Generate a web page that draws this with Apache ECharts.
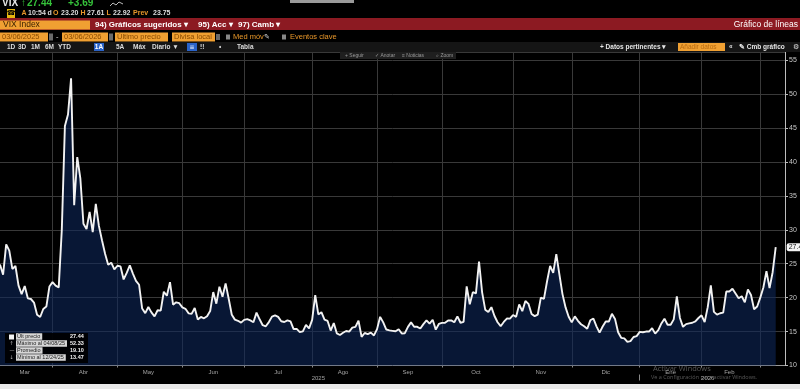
<!DOCTYPE html>
<html><head><meta charset="utf-8">
<script src="https://cdn.jsdelivr.net/npm/echarts@6/dist/echarts.min.js"></script>
<style>html,body{margin:0;padding:0;background:#000;}#c{width:800px;height:389px;}</style>
</head><body><div id="c"></div>
<script>
// ---- DATA (VIX Index, daily close, 03/06/2025 - 03/06/2026) ----
const monthNames = ['Mar','Abr','May','Jun','Jul','Ago','Sep','Oct','Nov','Dic','Ene','Feb','Mar'];
const monthYears = [2025,2025,2025,2025,2025,2025,2025,2025,2025,2025,2026,2026,2026];
const mar25 = [24.87,23.37,27.86,26.92,24.23,24.66,21.77,20.51,21.70,19.90,19.80,19.28,17.48,17.15,18.33,18.69,21.65,22.28];
const abr25 = [21.77,21.51,30.02,45.31,46.98,52.33,33.62,40.72,37.56,30.89,30.12,32.64,29.65,33.82,30.57,28.45,26.47,24.84,25.15,24.17,24.70];
const may25 = [24.60,22.68,23.64,24.76,23.55,22.48,21.90,18.39,17.72,18.62,17.83,17.24,18.14,18.09,20.87,20.28,22.29,18.96,19.31,19.18,18.57];
const jun25 = [18.36,17.69,17.61,18.48,16.77,17.16,16.95,17.26,18.02,20.82,19.11,21.60,20.14,22.10,19.83,17.48,16.76,16.59,16.32,16.73];
const jul25 = [16.83,16.64,16.38,17.79,16.81,15.94,15.78,16.40,17.20,17.38,17.16,16.52,16.41,16.65,16.50,15.37,15.39,14.93,15.03,15.98,15.48,16.72];
const ago25 = [20.38,17.52,17.85,16.77,16.57,15.15,16.25,14.73,14.49,14.83,15.09,14.99,15.57,15.69,16.60,14.22,14.79,14.62,14.85,14.43,15.36];
const sep25 = [17.17,16.35,15.30,15.18,15.11,15.04,15.35,14.71,14.76,15.69,16.36,15.72,15.70,15.45,16.10,16.64,16.18,16.74,15.29,16.12,16.28];
const oct25 = [16.29,16.63,16.65,16.37,17.24,16.30,16.43,21.66,19.03,20.81,20.64,25.31,20.78,18.23,17.87,18.60,17.30,16.37,15.79,16.42,16.92,16.91,17.44];
const nov25 = [17.17,19.00,18.01,19.50,19.08,17.60,17.28,17.51,20.00,19.83,22.38,24.69,23.66,26.42,23.43,20.52,18.56,17.19,16.35];
const dic25 = [17.24,16.59,16.08,15.78,15.41,16.66,16.93,15.77,14.85,15.74,16.50,16.48,17.62,16.87,14.91,14.08,14.00,13.47,13.60,14.20,14.33,14.95];
const ene26 = [14.90,15.00,15.00,15.50,14.70,15.20,16.20,16.90,16.00,16.00,16.80,20.20,17.00,15.70,16.10,16.20,16.30,16.50,17.00,17.40];
const feb26 = [16.40,18.60,21.80,17.90,17.50,17.70,17.80,20.90,20.90,21.30,20.60,19.90,20.20,19.30,21.20,20.40,18.30,18.70,20.00];
const mar26 = [21.50,23.90,21.40,23.75,27.44];
const yTicks = [10,15,20,25,30,35,40,45,50,55];
const legendLabels = ['Últ precio','Máximo al 04/08/25','Promedio','Mínimo al 12/24/25'];
const legendValues = ['27.44','52.33','19.10','13.47'];

// ---- build category axis from the monthly arrays ----
const months = [mar25,abr25,may25,jun25,jul25,ago25,sep25,oct25,nov25,dic25,ene26,feb26,mar26];
const cats = [], vals = [];
const monthEnd = new Set(), monthLabel = {}, yearEnd = new Set(), yearSpan = {};
months.forEach((arr, m) => {
  const s = vals.length;
  arr.forEach((v, i) => { cats.push(monthNames[m] + ' ' + (i + 1)); vals.push(v); });
  const e = vals.length - 1;
  if (m < months.length - 1) monthEnd.add(e);
  if (arr.length >= 10) monthLabel[s + Math.floor(arr.length / 2) - 1] = monthNames[m];
  const y = monthYears[m];
  if (!yearSpan[y]) yearSpan[y] = [s, e]; else yearSpan[y][1] = e;
});
const yearLabel = {};
Object.keys(yearSpan).forEach(y => {
  const [s, e] = yearSpan[y];
  yearLabel[Math.floor((s + e) / 2)] = y;
  if (e < vals.length - 1) yearEnd.add(e);
});
for (let k = 0; k < 3; k++) { cats.push(''); vals.push(null); }

// ---- header / decorations ----
const FF = '"Liberation Sans"';
const G = [];
function R(x, y, w, h, fill, z) { G.push({type:'rect', shape:{x, y, width:w, height:h}, style:{fill}, silent:true, z: z || 100}); }
function T(x, y, text, o) {
  const st = Object.assign({text, fill:'#dcdcdc', font:'bold 7px ' + FF, verticalAlign:'middle', align:'left'}, o || {});
  const z = st.z || 101; delete st.z;
  G.push({type:'text', x, y, silent:true, z, style: st});
}
const ORG = '#f0a032', OTXT = '#8a4b00', GRN = '#35c23a', AMB = '#e8972a';

// row 1 (clipped at top)
T(2, 8, 'VIX', {font:'bold 10px ' + FF, verticalAlign:'bottom', fill:'#e6e6e6'});
T(21, 8, '↑', {font:'bold 10px ' + FF, verticalAlign:'bottom', fill:GRN});
T(27, 8, '27.44', {font:'bold 10px ' + FF, verticalAlign:'bottom', fill:GRN});
T(68, 8, '+3.69', {font:'bold 10px ' + FF, verticalAlign:'bottom', fill:GRN});
G.push({type:'polyline', shape:{points:[[110,6],[113,3],[116,5],[119,2],[123,4]]}, style:{stroke:'#bbb', fill:null, lineWidth:1}, silent:true, z:101});
R(290, 0, 64, 3, '#9a9a9a');

// row 2
R(7, 9, 8, 9, '#e6b70f');
T(11, 13.5, '☎', {fill:'#000', align:'center', font:'7px "DejaVu Sans"'});
T(21.5, 13.5, 'A', {fill:AMB}); T(28, 13.5, '10:54'); T(47.5, 13.5, 'd'); T(53, 13.5, 'O', {fill:AMB});
T(61, 13.5, '23.20'); T(80.5, 13.5, 'H', {fill:AMB}); T(87, 13.5, '27.61'); T(106.5, 13.5, 'L', {fill:AMB});
T(113, 13.5, '22.92'); T(133, 13.5, 'Prev', {fill:AMB}); T(153, 13.5, '23.75');

// row 3 red bar
R(0, 18, 800, 12, '#8c1a22');
R(0, 20.5, 90, 9, ORG, 101);
T(3, 25, 'VIX Index', {fill:'#3b2200', font:'8.5px ' + FF, z:102});
T(95, 24.5, '94) Gráficos sugeridos ▾', {fill:'#fff', font:'bold 8px ' + FF});
T(198, 24.5, '95) Acc ▾', {fill:'#fff', font:'bold 8px ' + FF});
T(238, 24.5, '97) Camb ▾', {fill:'#fff', font:'bold 8px ' + FF});
T(798, 24.5, 'Gráfico de líneas', {fill:'#fff', font:'8.5px ' + FF, align:'right'});

// row 4
const f4 = '7.5px ' + FF;
R(0, 32.5, 48, 9, ORG); T(2, 37, '03/06/2025', {fill:OTXT, font:f4});
R(49, 33.5, 4, 7, '#6a6a6a'); T(56, 37, '-', {font:f4});
R(62, 32.5, 46, 9, ORG); T(64, 37, '03/06/2026', {fill:OTXT, font:f4});
R(109, 33.5, 4, 7, '#6a6a6a');
R(115, 32.5, 53, 9, ORG); T(117, 37, 'Último precio', {fill:OTXT, font:f4});
R(172, 32.5, 43, 9, ORG); T(174, 37, 'Divisa local', {fill:OTXT, font:f4});
R(216, 34, 4, 6, '#6a6a6a');
R(226, 34.5, 4, 5, '#888'); T(233, 37, 'Med móv', {fill:AMB, font:f4}); T(264, 37, '✎', {fill:'#ddd', font:'7px "DejaVu Sans"'});
R(282, 34.5, 4, 5, '#888'); T(290, 37, 'Eventos clave', {fill:AMB, font:f4});

// row 5 toolbar
R(0, 42, 800, 10, '#151515');
const f5 = 'bold 6.5px ' + FF;
[['1D',7],['3D',18],['1M',31],['6M',45],['YTD',58],['5A',116],['Máx',133],['Diario ▼',152],['Tabla',237]].forEach(a => T(a[1], 47, a[0], {font:f5}));
R(94, 43, 10, 8, '#2a63c8'); T(99, 47, '1A', {font:f5, align:'center', fill:'#fff'});
R(187, 43, 10, 8, '#2a63c8'); T(192, 47, '≡', {font:'6px "DejaVu Sans"', align:'center', fill:'#fff'});
T(200, 47, '⁞!', {font:f5}); T(219, 47, '•', {font:f5});
T(600, 47, '+ Datos pertinentes ▾', {font:f5, fill:'#e6e6e6'});
R(678, 43, 47, 8, ORG); T(680, 47, 'Añadir datos', {font:'6.5px ' + FF, fill:'#b86a10'});
T(729, 47, '«', {font:f5}); T(739, 47, '✎ Cmb gráfico', {font:f5, fill:'#e6e6e6'}); T(793, 47, '⚙', {font:'7px "DejaVu Sans"'});

// row 6 small strip
R(340, 52, 116, 7, '#1f1f1f');
const f6 = '5px ' + FF;
T(345, 55.5, '+ Seguir', {font:f6, fill:'#9a9a9a'}); T(375, 55.5, '✓ Anotar', {font:f6, fill:'#9a9a9a'});
T(402, 55.5, '≡ Noticias', {font:f6, fill:'#9a9a9a'}); T(436, 55.5, '⌕ Zoom', {font:f6, fill:'#9a9a9a'});

// legend box
R(5, 333, 83, 30, 'rgba(0,0,0,0.92)');
const ly = [336.5, 343.5, 350.5, 357.5];
R(9, 334.5, 5, 5, '#f2f2f2', 102);
['', '↑', '—', '↓'].forEach((s, i) => { if (s) T(9.5, ly[i], s, {font:'5px "DejaVu Sans"', fill:'#bbb'}); });
legendLabels.forEach((s, i) => {
  T(16, ly[i], s, {font:'5.5px ' + FF, fill:'#202020', backgroundColor:'#d6d6d6', padding:[0.5,2,0,1]});
  T(70, ly[i], legendValues[i], {font:'bold 5.5px ' + FF, fill:'#f0f0f0'});
});

// watermark + bottom strip
T(653, 368.5, 'Activar Windows', {font:'7.5px "Open Sans"', fill:'rgba(190,190,190,0.45)'});
T(651, 377.5, 'Ve a Configuración para activar Windows.', {font:'5.5px "Open Sans"', fill:'rgba(190,190,190,0.45)'});
R(0, 384, 800, 5, '#e9e9e9');

// ---- chart ----
const chart = echarts.init(document.getElementById('c'), null, {renderer:'canvas'});
chart.setOption({
  backgroundColor:'#000',
  animation:false,
  textStyle:{fontFamily:'Liberation Sans'},
  grid:{left:0, right:15, top:52, bottom:23.5, containLabel:false, outerBoundsMode:'none'},
  xAxis:[{
    type:'category', data:cats, boundaryGap:false,
    axisLine:{show:true, lineStyle:{color:'#9a9a9a', width:1}},
    axisTick:{show:true, interval:(i) => monthEnd.has(i), length:2, lineStyle:{color:'#8a8a8a'}},
    axisLabel:{show:true, interval:(i) => monthLabel[i] !== undefined, formatter:(v, i) => monthLabel[i] || '',
      color:'#a2a2a2', fontSize:6, margin:4},
    splitLine:{show:true, interval:(i) => monthEnd.has(i), lineStyle:{color:'#393939', width:1}}
  },{
    type:'category', data:cats, boundaryGap:false, position:'bottom', offset:9,
    axisLine:{show:false},
    axisTick:{show:true, interval:(i) => yearEnd.has(i), length:6, lineStyle:{color:'#8a8a8a'}},
    axisLabel:{show:true, interval:(i) => yearLabel[i] !== undefined, formatter:(v, i) => yearLabel[i] || '',
      color:'#a2a2a2', fontSize:6, margin:1},
    splitLine:{show:false}
  }],
  yAxis:{
    type:'value', position:'right', min:10, max:56.2, interval:5,
    axisLine:{show:true, lineStyle:{color:'#bdbdbd'}},
    axisTick:{show:true, length:3, lineStyle:{color:'#bdbdbd'}},
    axisLabel:{color:'#c8c8c8', fontSize:7, margin:4, showMaxLabel:false,
      formatter:(v) => yTicks.includes(v) ? String(v) : ''},
    splitLine:{show:true, lineStyle:{color:'#393939', width:1}}
  },
  series:[{
    type:'line', data:vals, xAxisIndex:0, symbol:'none', smooth:false, connectNulls:false,
    lineStyle:{color:'#f2f2f2', width:1.9},
    areaStyle:{color:'rgba(14,40,92,0.82)', origin:'start'},
    endLabel:{show:true, distance:11, formatter:(p) => (p.value != null ? p.value.toFixed(2) : ''),
      backgroundColor:'#f4f4f4', color:'#111', fontSize:7, padding:[1,2,0,2], borderRadius:2},
    silent:true, z:2
  }],
  graphic:G
});
</script></body></html>
